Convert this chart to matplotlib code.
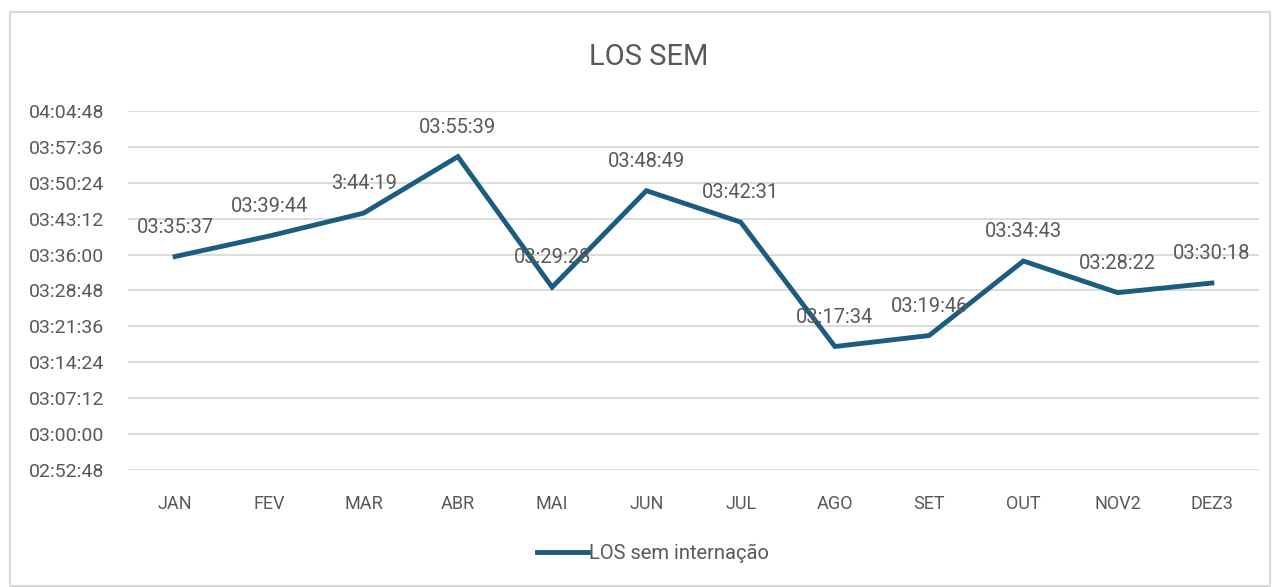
import matplotlib
matplotlib.use("Agg")
import matplotlib.pyplot as plt
from matplotlib.patches import Rectangle
from matplotlib.ticker import FixedLocator, FuncFormatter

# dados do gráfico
meses = ["JAN", "FEV", "MAR", "ABR", "MAI", "JUN", "JUL", "AGO", "SET", "OUT", "NOV2", "DEZ3"]
los_sem = ["03:35:37", "03:39:44", "03:44:19", "03:55:39", "03:29:28", "03:48:49",
           "03:42:31", "03:17:34", "03:19:46", "03:34:43", "03:28:22", "03:30:18"]
rotulos = ["03:35:37", "03:39:44", "3:44:19", "03:55:39", "03:29:28", "03:48:49",
           "03:42:31", "03:17:34", "03:19:46", "03:34:43", "03:28:22", "03:30:18"]
y_ticks = ["02:52:48", "03:00:00", "03:07:12", "03:14:24", "03:21:36", "03:28:48",
           "03:36:00", "03:43:12", "03:50:24", "03:57:36", "04:04:48"]


def to_sec(s):
    h, m, sec = s.split(":")
    return int(h) * 3600 + int(m) * 60 + int(sec)


def fmt(v, pos=None):
    v = int(round(v))
    return f"{v // 3600:02d}:{(v % 3600) // 60:02d}:{v % 60:02d}"


plt.rcParams['font.family'] = ['Roboto', 'DejaVu Sans']
cinza = "#595959"
azul = "#1c5d7f"

W, H = 1276, 587
fig = plt.figure(figsize=(W / 100, H / 100), dpi=100)
fig.patches.append(Rectangle((10 / W, 1 - 586 / H), 1260 / W, 574 / H,
                             transform=fig.transFigure, fill=False,
                             edgecolor="#d9d9d9", linewidth=1.5))

ax = fig.add_axes([128 / W, 1 - 470 / H, (1259 - 128) / W, (470 - 111) / H])
x = list(range(len(meses)))
y = [to_sec(v) for v in los_sem]
yt = [to_sec(v) for v in y_ticks]

ax.plot(x, y, color=azul, linewidth=3.5, solid_joinstyle="miter",
        label="LOS sem internação")
for xi, yi, lab in zip(x, y, rotulos):
    ax.annotate(lab, (xi, yi), xytext=(0, 20), textcoords="offset pixels",
                ha="center", va="bottom", fontsize=14.5, color=cinza)

ax.set_xlim(-0.5, len(meses) - 0.5)
ax.set_ylim(yt[0], yt[-1])
ax.yaxis.set_major_locator(FixedLocator(yt))
ax.yaxis.set_major_formatter(FuncFormatter(fmt))
ax.set_xticks(x)
ax.set_xticklabels(meses)
ax.grid(axis="y", color="#d9d9d9", linewidth=1.3)
ax.set_axisbelow(True)
for s in ax.spines.values():
    s.set_visible(False)
ax.tick_params(axis="both", length=0, labelcolor=cinza)
ax.tick_params(axis="y", pad=17, labelsize=14)
ax.tick_params(axis="x", pad=18, labelsize=13)

fig.text(649 / W, 1 - 57 / H, "LOS SEM", ha="center", va="center",
         fontsize=21, color=cinza)

fig.legend(loc="center", bbox_to_anchor=(653 / W, 1 - 553 / H), frameon=False,
           fontsize=14.5, labelcolor=cinza, handlelength=2.55, handletextpad=0.05)

fig.savefig("out.png", dpi=100)
